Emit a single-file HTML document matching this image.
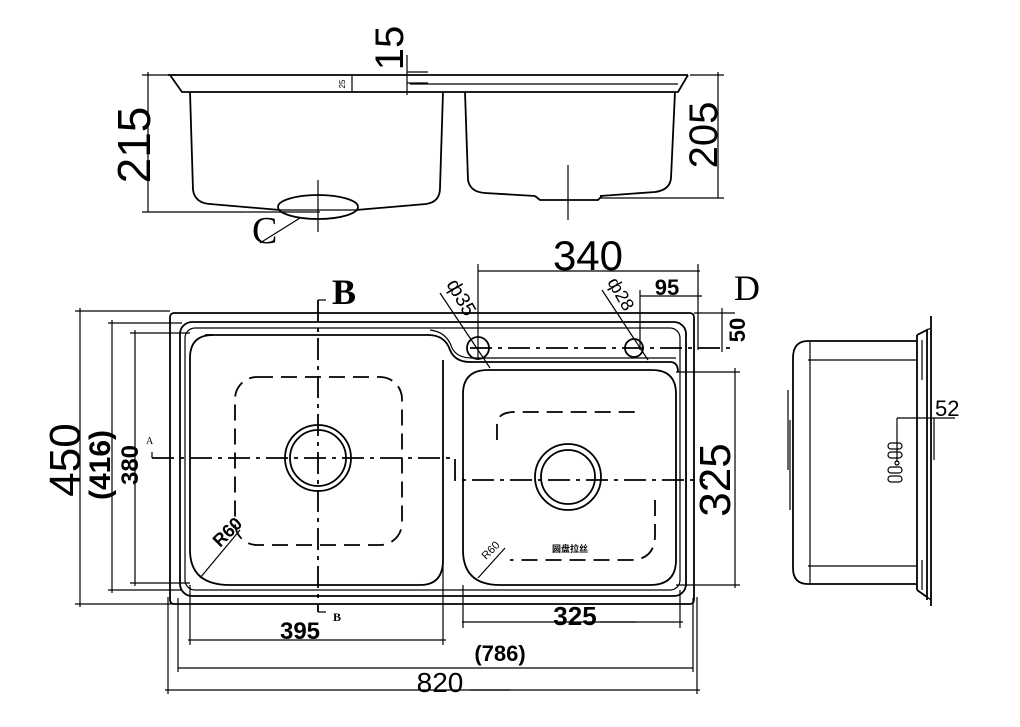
<!DOCTYPE html>
<html><head><meta charset="utf-8"><style>
html,body{margin:0;padding:0;background:#fff}
svg{display:block}
text{fill:#000}
.s{fill:none;stroke:#000;stroke-width:1.8}
.t{fill:none;stroke:#000;stroke-width:1.2}
.d{fill:none;stroke:#000;stroke-width:1.8;stroke-dasharray:22 6 4 6}
.dd{fill:none;stroke:#000;stroke-width:1.8;stroke-dasharray:16 8}
</style></head><body>
<svg width="1020" height="727" viewBox="0 0 1020 727" xmlns="http://www.w3.org/2000/svg" font-family="Liberation Sans, Noto Sans CJK SC, sans-serif">
<!-- FRONT SECTION -->
<path class="s" d="M168 75 H688"/>
<path class="s" d="M170 75 L182 92 H678 L688 75"/>
<path class="t" d="M410 84 H678"/>
<path class="s" d="M190 92 L193 190 Q195 203 210 204 L280 210 M356 210 L426 204 Q440 202 440 188 L443 92"/>
<ellipse class="s" cx="318" cy="207" rx="40" ry="12"/>
<path class="t" d="M280 210 H356"/>
<path class="t" d="M318 180 V232"/>
<path class="t" d="M260 243 L300 218"/>
<text x="252" y="243" style="font-family:'Liberation Serif',serif" font-size="38">C</text>
<path class="s" d="M465 92 L468 180 Q470 192 485 193 L535 196 M600 196 L655 192 Q670 190 671 178 L675 92"/>
<path class="s" d="M535 196 L540 200 H598 L602 196"/>
<path class="t" d="M568 165 V220"/>
<path class="t" d="M148 72 V212 M142 75 H176 M142 212 H320"/>
<text transform="translate(150,145) rotate(-90)" text-anchor="middle" font-size="46">215</text>
<path class="t" d="M718 72 V198 M690 75 H724 M600 198 H724"/>
<text transform="translate(717,135) rotate(-90)" text-anchor="middle" font-size="40">205</text>
<path class="t" d="M407 55 V95 M407 72 H428 M407 83 H428"/>
<text transform="translate(403,48) rotate(-90)" text-anchor="middle" font-size="40">15</text>
<path class="t" d="M352 75 V92"/>
<text transform="translate(345,84) rotate(-90)" text-anchor="middle" font-size="8">25</text>

<!-- PLAN VIEW -->
<rect class="s" x="170" y="313" width="524" height="291" rx="4"/>
<rect class="s" x="180" y="322" width="506" height="274" rx="12"/>
<rect class="t" x="185" y="328" width="495" height="262" rx="10"/>
<path class="s" d="M205 335 H428 Q445 335 450 350 Q455 362 470 362 H670 Q678 362 678 372"/>
<path class="t" d="M430 330 Q447 332 452 348 Q457 358 472 358 H676"/>
<path class="s" d="M213 335 Q190 335 190 358 V550 Q190 585 230 585 H420 Q443 585 443 560 V360"/>
<path class="s" d="M488 370 H652 Q676 370 676 394 V560 Q676 585 650 585 H500 Q463 585 463 550 V394 Q463 370 488 370"/>
<rect class="dd" x="235" y="377" width="167" height="168" rx="22"/>
<path class="dd" d="M497 440 V425 Q497 412 515 412 H635"/>
<path class="dd" d="M655 500 V535 Q655 560 630 560 H510"/>
<circle class="s" cx="318" cy="458" r="33"/>
<circle class="s" cx="318" cy="458" r="28"/>
<circle class="s" cx="568" cy="477" r="33"/>
<circle class="s" cx="568" cy="477" r="27"/>
<circle class="s" cx="478" cy="348" r="11"/>
<circle class="s" cx="634" cy="348" r="9"/>
<path class="d" d="M470 348 H735"/>
<text x="570" y="552" text-anchor="middle" font-size="9" font-weight="bold">圆盘拉丝</text>
<path class="d" d="M152 458 H455 V480 H705"/>
<path class="t" d="M152 452 V458"/>
<text x="146" y="444" font-size="10" style="font-family:'Liberation Serif',serif">A</text>
<path class="d" d="M318 300 V612"/>
<path class="t" d="M318 300 H326 M318 612 H326"/>
<text x="332" y="304" style="font-family:'Liberation Serif',serif" font-size="36" font-weight="bold">B</text>
<text x="333" y="621" style="font-family:'Liberation Serif',serif" font-size="12" font-weight="bold">B</text>
<text x="734" y="300" style="font-family:'Liberation Serif',serif" font-size="36">D</text>
<path class="t" d="M200 578 L240 530"/>
<text transform="translate(220,548) rotate(-45)" font-size="18" font-weight="bold">R60</text>
<path class="t" d="M478 578 L505 548"/>
<text transform="translate(486,560) rotate(-45)" font-size="11">R60</text>
<path class="t" d="M440 293 L490 368"/>
<text transform="translate(446,284) rotate(60)" font-size="20">ф35</text>
<path class="t" d="M602 290 L648 360"/>
<text transform="translate(607,282) rotate(60)" font-size="18">ф28</text>
<path class="t" d="M478 271 H700 M478 264 V360 M698 264 V350"/>
<text x="588" y="270" text-anchor="middle" font-size="42">340</text>
<path class="t" d="M640 296 H702 M640 290 V350"/>
<text x="667" y="295" text-anchor="middle" font-size="22" font-weight="bold">95</text>
<path class="t" d="M694 313 H735 M722 308 V352"/>
<text transform="translate(745,330) rotate(-90)" text-anchor="middle" font-size="22" font-weight="bold">50</text>
<path class="t" d="M676 372 H740 M735 368 V588 M676 585 H740"/>
<text transform="translate(730,480) rotate(-90)" text-anchor="middle" font-size="44">325</text>
<path class="t" d="M80 308 V607 M75 311 H170 M75 604 H175"/>
<text transform="translate(80,460) rotate(-90)" text-anchor="middle" font-size="44">450</text>
<path class="t" d="M112 320 V593 M108 323 H182 M108 590 H182"/>
<text transform="translate(110,465) rotate(-90)" text-anchor="middle" font-size="30" font-weight="bold">(416)</text>
<path class="t" d="M135 330 V586 M130 333 H190 M130 583 H190"/>
<text transform="translate(138,465) rotate(-90)" text-anchor="middle" font-size="24" font-weight="bold">380</text>
<path class="t" d="M188 640 H446 M190 585 V645 M443 560 V645"/>
<text x="300" y="639" text-anchor="middle" font-size="24" font-weight="bold">395</text>
<path class="t" d="M462 622 H683 M463 585 V628 M680 590 V628"/>
<text x="575" y="625" text-anchor="middle" font-size="26" font-weight="bold">325</text>
<path class="t" d="M600 622 H636"/>
<path class="t" d="M178 668 H693 M178 598 V672 M693 598 V672"/>
<text x="500" y="661" text-anchor="middle" font-size="22" font-weight="bold">(786)</text>
<path class="t" d="M165 690 H700 M168 597 V694 M697 597 V694"/>
<text x="440" y="692" text-anchor="middle" font-size="28">820</text>
<path class="t" d="M470 690 H510"/>

<!-- SIDE VIEW -->
<path class="s" d="M917 341 H808 Q793 341 793 358 V568 Q793 584 808 584 H917"/>
<path class="t" d="M810 342 V584 M808 360 H917 M808 566 H917"/>
<path class="s" d="M917 335 V590 M917 335 L927 330 V597 L917 590 M927 330 V600"/>
<path class="s" d="M931 316 V606"/>
<path class="t" d="M927 330 L931 328 M927 597 L931 600 M922 340 V380 M922 560 V590"/>
<path class="t" d="M788 390 V470 M790 420 V510"/>
<path class="t" d="M897 418 H955 M897 418 V462"/>
<path class="t" d="M934 418 V460"/>
<text x="935" y="416" font-size="22">52</text>
<g class="t">
<rect x="888" y="443" width="14" height="6" rx="3"/>
<rect x="888" y="452" width="14" height="6" rx="3"/>
<rect x="888" y="467" width="14" height="6" rx="3"/>
<rect x="888" y="476" width="14" height="6" rx="3"/>
<circle cx="897" cy="463" r="2"/>
</g>
</svg>
</body></html>
